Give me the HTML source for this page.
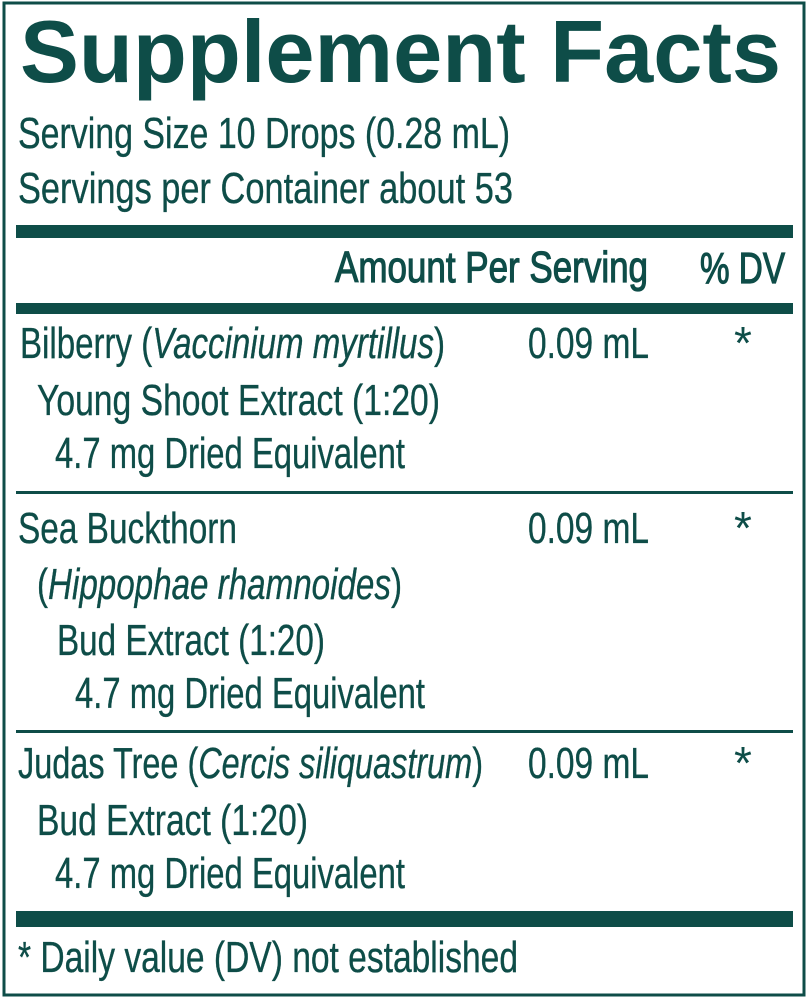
<!DOCTYPE html>
<html>
<head>
<meta charset="utf-8">
<style>
  html, body { margin:0; padding:0; background:#fff; }
  svg { display:block; }
  text { font-family: "Liberation Sans", Arial, sans-serif; fill:#0e4d48; }
  .b { font-size:44px; stroke:#0e4d48; stroke-width:0.35px; }
  .h { font-size:44px; stroke:#0e4d48; stroke-width:1.2px; }
  .s { font-size:46px; }
</style>
</head>
<body>
<svg width="810" height="1000" viewBox="0 0 810 1000" xmlns="http://www.w3.org/2000/svg">
  <rect x="0" y="0" width="810" height="1000" fill="#ffffff"/>
  <rect x="4" y="3" width="800" height="992" fill="none" stroke="#0e4d48" stroke-width="3"/>

  <!-- Title -->
  <text x="20" y="82" font-size="88" font-weight="bold" textLength="761" lengthAdjust="spacingAndGlyphs">Supplement Facts</text>

  <text class="b" x="18" y="148" textLength="492" lengthAdjust="spacingAndGlyphs">Serving Size 10 Drops (0.28 mL)</text>
  <text class="b" x="18" y="203" textLength="495" lengthAdjust="spacingAndGlyphs">Servings per Container about 53</text>

  <!-- bars -->
  <rect x="16" y="225" width="777" height="13" fill="#0e4d48"/>
  <rect x="16" y="303" width="777" height="11" fill="#0e4d48"/>
  <rect x="16" y="491" width="777" height="3" fill="#0e4d48"/>
  <rect x="16" y="730" width="777" height="3" fill="#0e4d48"/>
  <rect x="16" y="911" width="777" height="16" fill="#0e4d48"/>

  <!-- header -->
  <text class="h" x="335" y="282" textLength="313" lengthAdjust="spacingAndGlyphs">Amount Per Serving</text>
  <text class="h" x="700" y="283" textLength="85" lengthAdjust="spacingAndGlyphs">% DV</text>

  <!-- Row 1 -->
  <text class="b" x="20" y="358" textLength="425" lengthAdjust="spacingAndGlyphs">Bilberry (<tspan font-style="italic">Vaccinium myrtillus</tspan>)</text>
  <text class="b" x="37" y="415" textLength="403" lengthAdjust="spacingAndGlyphs">Young Shoot Extract (1:20)</text>
  <text class="b" x="55" y="468" textLength="350" lengthAdjust="spacingAndGlyphs">4.7 mg Dried Equivalent</text>
  <text class="b" x="528" y="358" textLength="121" lengthAdjust="spacingAndGlyphs">0.09 mL</text>
  <text class="s" x="734" y="359">*</text>

  <!-- Row 2 -->
  <text class="b" x="18" y="543" textLength="219" lengthAdjust="spacingAndGlyphs">Sea Buckthorn</text>
  <text class="b" x="37" y="599" textLength="365" lengthAdjust="spacingAndGlyphs">(<tspan font-style="italic">Hippophae rhamnoides</tspan>)</text>
  <text class="b" x="57" y="655" textLength="268" lengthAdjust="spacingAndGlyphs">Bud Extract (1:20)</text>
  <text class="b" x="75" y="708" textLength="350" lengthAdjust="spacingAndGlyphs">4.7 mg Dried Equivalent</text>
  <text class="b" x="528" y="543" textLength="121" lengthAdjust="spacingAndGlyphs">0.09 mL</text>
  <text class="s" x="734" y="544">*</text>

  <!-- Row 3 -->
  <text class="b" x="18" y="778" textLength="465" lengthAdjust="spacingAndGlyphs">Judas Tree (<tspan font-style="italic">Cercis siliquastrum</tspan>)</text>
  <text class="b" x="37" y="835" textLength="271" lengthAdjust="spacingAndGlyphs">Bud Extract (1:20)</text>
  <text class="b" x="55" y="888" textLength="350" lengthAdjust="spacingAndGlyphs">4.7 mg Dried Equivalent</text>
  <text class="b" x="528" y="778" textLength="121" lengthAdjust="spacingAndGlyphs">0.09 mL</text>
  <text class="s" x="734" y="779">*</text>

  <!-- Footnote -->
  <text class="b" x="18" y="972" textLength="500" lengthAdjust="spacingAndGlyphs">* Daily value (DV) not established</text>
</svg>
</body>
</html>
